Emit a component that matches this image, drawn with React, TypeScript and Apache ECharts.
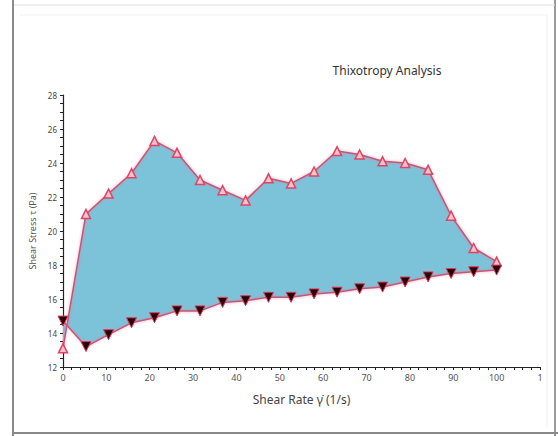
import React, { useEffect, useRef } from "react";
import * as echarts from "echarts";

const shearRate = [0, 5.3, 10.5, 15.8, 21.1, 26.3, 31.6, 36.8, 42.1, 47.4, 52.6, 57.9, 63.2, 68.4, 73.7, 78.9, 84.2, 89.5, 94.7, 100];
const upCurve = [13.1, 21.0, 22.2, 23.4, 25.3, 24.6, 23.0, 22.4, 21.8, 23.1, 22.8, 23.5, 24.7, 24.5, 24.1, 24.0, 23.6, 20.9, 19.0, 18.2];
const downCurve = [14.7, 13.2, 13.9, 14.6, 14.9, 15.3, 15.3, 15.8, 15.9, 16.1, 16.1, 16.3, 16.4, 16.6, 16.7, 17.0, 17.3, 17.5, 17.6, 17.7];
const title = "Thixotropy Analysis";
const xName = "Shear Rate γ̇ (1/s)";
const yName = "Shear Stress τ (Pa)";

export default function App() {
  const ref = useRef<HTMLDivElement>(null);
  useEffect(() => {
    if (!ref.current) return;
    const chart = echarts.init(ref.current, null, { renderer: "svg" });
    const font = "'Noto Sans', 'DejaVu Sans', sans-serif";
    chart.setOption({
      animation: false,
      backgroundColor: "#ffffff",
      textStyle: { fontFamily: font },
      title: {
        text: title,
        left: 382,
        top: 59,
        textAlign: "center",
        textStyle: { fontSize: 12, fontWeight: "normal", color: "#333", fontFamily: font },
      },
      grid: { left: 63, right: 18, top: 95, bottom: 69, containLabel: false },
      xAxis: {
        type: "value",
        min: 0,
        max: 110,
        interval: 10,
        name: xName,
        nameLocation: "middle",
        nameGap: 26,
        nameTextStyle: { fontSize: 12, color: "#444", fontFamily: font },
        axisLine: { show: true, lineStyle: { color: "#222", width: 1.2 } },
        axisTick: { show: true, length: 3, lineStyle: { color: "#222" } },
        minorTick: { show: true, splitNumber: 5, length: 3, lineStyle: { color: "#222" } },
        axisLabel: {
          fontSize: 9,
          color: "#555",
          margin: 6,
          formatter: (v: number) => (v === 110 ? "1" : String(v)),
        },
        splitLine: { show: false },
      },
      yAxis: {
        type: "value",
        min: 12,
        max: 28,
        interval: 2,
        name: yName,
        nameLocation: "middle",
        nameGap: 26,
        nameTextStyle: { fontSize: 9, color: "#555", fontFamily: font },
        axisLine: { show: true, lineStyle: { color: "#222", width: 1.2 } },
        axisTick: { show: true, length: 3, lineStyle: { color: "#222" } },
        minorTick: { show: true, splitNumber: 4, length: 3, lineStyle: { color: "#222" } },
        axisLabel: { fontSize: 8, color: "#444", margin: 6 },
        splitLine: { show: false },
      },
      graphic: [
        { type: "line", shape: { x1: 13, y1: 0, x2: 13, y2: 436 }, style: { stroke: "#8a8a8a", lineWidth: 2 } },
        { type: "line", shape: { x1: 555, y1: 0, x2: 555, y2: 436 }, style: { stroke: "#9a9a9a", lineWidth: 2 } },
        { type: "line", shape: { x1: 13, y1: 433, x2: 558, y2: 433 }, style: { stroke: "#8a8a8a", lineWidth: 2 } },
        { type: "line", shape: { x1: 14, y1: 5, x2: 555, y2: 5 }, style: { stroke: "#e2e2e2", lineWidth: 1 } },
        { type: "line", shape: { x1: 20, y1: 15, x2: 547, y2: 15 }, style: { stroke: "#efefef", lineWidth: 1 } },
        { type: "line", shape: { x1: 547, y1: 15, x2: 547, y2: 428 }, style: { stroke: "#efefef", lineWidth: 1 } },
      ],
      series: [
        {
          type: "custom",
          z: 1,
          silent: true,
          data: [[0, 12]],
          renderItem: (_params: any, api: any) => {
            const pts: number[][] = [];
            for (let i = 0; i < shearRate.length; i++) pts.push(api.coord([shearRate[i], upCurve[i]]));
            for (let i = shearRate.length - 1; i >= 0; i--) pts.push(api.coord([shearRate[i], downCurve[i]]));
            return { type: "polygon", shape: { points: pts }, style: { fill: "#7cc3da", stroke: "none" } };
          },
        },
        {
          type: "line",
          z: 3,
          data: shearRate.map((x, i) => [x, upCurve[i]]),
          symbol: "triangle",
          symbolSize: 9,
          lineStyle: { color: "#c0587a", width: 1.5, shadowColor: "rgba(255,110,140,0.7)", shadowBlur: 3 },
          itemStyle: { color: "#f6c2cc", borderColor: "#e04464", borderWidth: 1.5 },
        },
        {
          type: "line",
          z: 3,
          data: shearRate.map((x, i) => [x, downCurve[i]]),
          symbol: "triangle",
          symbolRotate: 180,
          symbolSize: 10,
          lineStyle: { color: "#c0587a", width: 1.5, shadowColor: "rgba(255,110,140,0.7)", shadowBlur: 3 },
          itemStyle: { color: "#2a0008", borderColor: "#e03a58", borderWidth: 1 },
        },
      ],
    });
    return () => chart.dispose();
  }, []);
  return (
    <div
      ref={ref}
      style={{ position: "fixed", left: 0, top: 0, width: 558, height: 436 }}
    />
  );
}
